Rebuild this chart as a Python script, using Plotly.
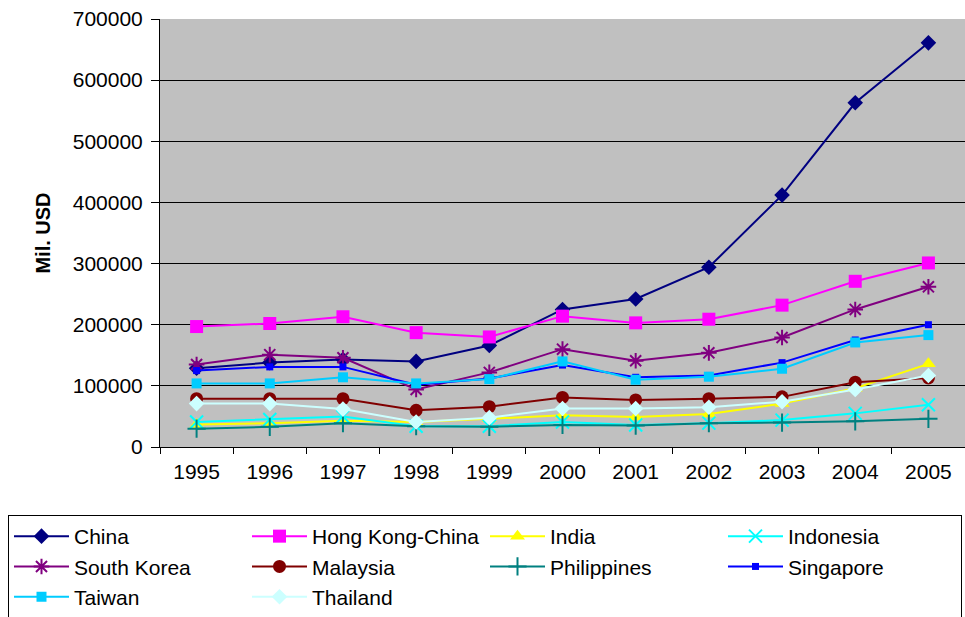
import plotly.graph_objects as go

years = ["1995", "1996", "1997", "1998", "1999", "2000", "2001", "2002", "2003", "2004", "2005"]

china = [129000, 138000, 143000, 140000, 166000, 225000, 242000, 294000, 412000, 563000, 661000]
hong_kong = [197000, 202000, 213000, 187000, 180000, 214000, 203000, 209000, 232000, 271000, 301000]
india = [37000, 39000, 43000, 41000, 46000, 52000, 49000, 54000, 71000, 96000, 136000]
indonesia = [41000, 45000, 50000, 34000, 34000, 41000, 36000, 39000, 44000, 55000, 69000]
south_korea = [135000, 151000, 146000, 94000, 122000, 160000, 141000, 154000, 179000, 225000, 262000]
malaysia = [79000, 79000, 79000, 60000, 66000, 81000, 77000, 79000, 82000, 106000, 113000]
philippines = [30000, 33000, 39000, 34000, 33000, 36000, 35000, 39000, 40000, 42000, 46000]
singapore = [125000, 131000, 131000, 102000, 112000, 134000, 114000, 117000, 138000, 175000, 200000]
taiwan = [104000, 104000, 114000, 104000, 111000, 140000, 110000, 115000, 128000, 171000, 183000]
thailand = [71000, 71000, 62000, 41000, 48000, 63000, 63000, 65000, 74000, 94000, 117000]

y_ticks = [0, 100000, 200000, 300000, 400000, 500000, 600000, 700000]

series = [
    ("China", china, "#000080", "diamond", 12),
    ("Hong Kong-China", hong_kong, "#FF00FF", "square", 13),
    ("India", india, "#FFFF00", "triangle-up", 13),
    ("Indonesia", indonesia, "#00FFFF", "x-thin", 13),
    ("South Korea", south_korea, "#800080", "asterisk", 13),
    ("Malaysia", malaysia, "#800000", "circle", 13),
    ("Philippines", philippines, "#008080", "cross-thin", 13),
    ("Singapore", singapore, "#0000FF", "square", 7),
    ("Taiwan", taiwan, "#00CCFF", "square", 10),
    ("Thailand", thailand, "#CCFFFF", "diamond", 12),
]

fig = go.Figure()
for name, vals, color, sym, size in series:
    thin = sym in ("x-thin", "cross-thin", "asterisk")
    marker = dict(symbol=sym, size=size, color=color,
                  line=dict(color=color, width=2 if thin else 0))
    fig.add_trace(go.Scatter(
        x=years, y=vals, name=name, mode="lines+markers",
        line=dict(color=color, width=2), marker=marker,
    ))

font_family = "Liberation Sans, Arial, sans-serif"

plot_l, plot_r, plot_t, plot_b = 160, 965, 19, 447
leg_x = (8 - plot_l) / (plot_r - plot_l)
leg_y = (plot_b - 515) / (plot_b - plot_t)

fig.update_layout(
    width=965, height=617,
    margin=dict(l=160, r=0, t=19, b=170, autoexpand=False),
    paper_bgcolor="white",
    plot_bgcolor="#C0C0C0",
    font=dict(family=font_family, size=21, color="black"),
    showlegend=True,
    legend=dict(
        orientation="h",
        xref="paper", yref="paper",
        x=leg_x, y=leg_y,
        xanchor="left", yanchor="top",
        entrywidth=168,
        itemwidth=55,
        bordercolor="black", borderwidth=1,
        bgcolor="white",
        font=dict(family=font_family, size=21),
        itemsizing="trace",
        tracegroupgap=0,
    ),
)

fig.update_xaxes(
    type="category",
    range=[-0.5, 10.5],
    tickson="boundaries",
    ticks="outside", ticklen=6, tickcolor="black", tickwidth=1,
    ticklabelstandoff=6,
    showline=True, linecolor="black", linewidth=1,
    showgrid=False,
    tickfont=dict(size=21),
)
fig.update_yaxes(
    range=[0, 700000],
    tickvals=y_ticks,
    ticktext=[str(v) for v in y_ticks],
    ticks="outside", ticklen=8, tickcolor="black", tickwidth=1,
    ticklabelstandoff=4,
    showline=True, linecolor="black", linewidth=1,
    showgrid=True, gridcolor="#000000", gridwidth=1,
    zeroline=False,
    tickfont=dict(size=21),
    title=dict(text="<b>Mil. USD</b>", font=dict(size=20), standoff=16),
)

fig.write_html("out.html")
